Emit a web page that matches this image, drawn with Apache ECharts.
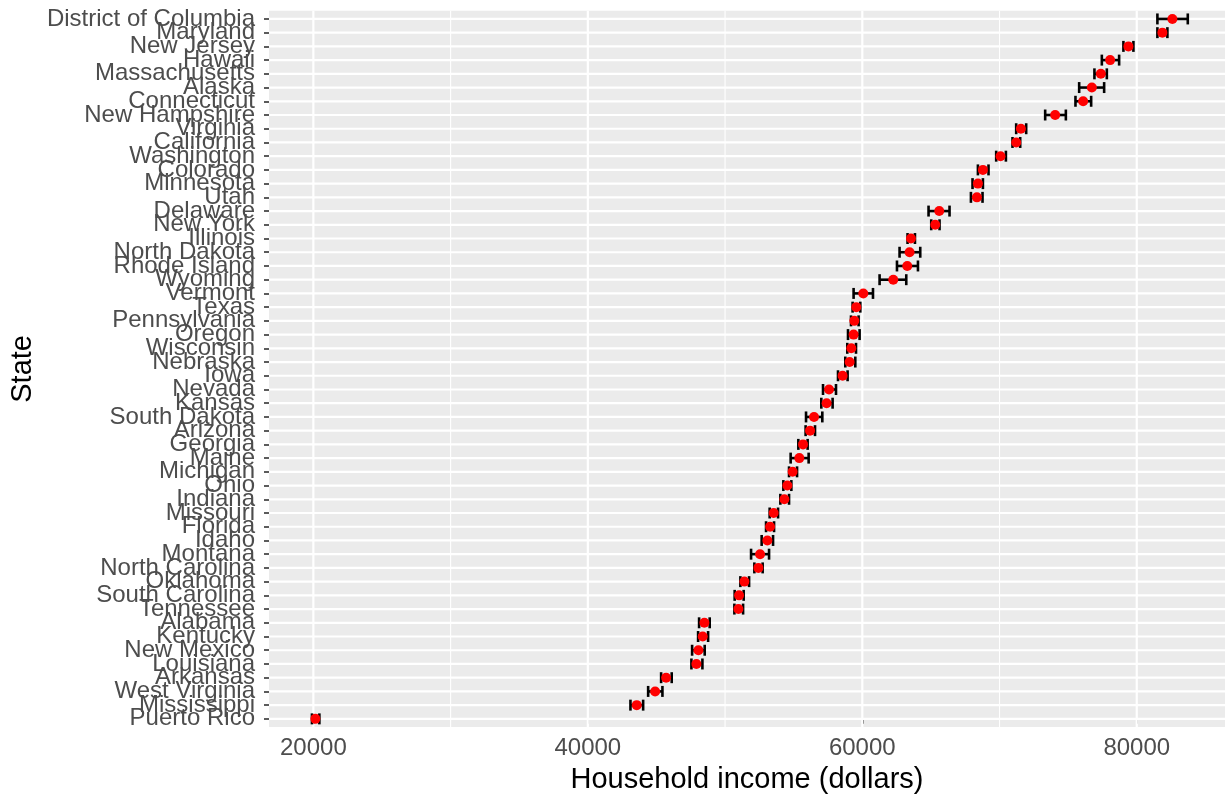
<!DOCTYPE html>
<html>
<head>
<meta charset="utf-8">
<title>Household income by state</title>
<script src="https://cdn.jsdelivr.net/npm/echarts@6/dist/echarts.min.js"></script>
<style>
  html, body { margin: 0; padding: 0; background: #ffffff; }
  #chart { width: 1225px; height: 799px; }
</style>
</head>
<body>
<div id="chart"></div>
<script>
// States listed from top of the chart to the bottom (highest to lowest income)
const states = [
  'District of Columbia', 'Maryland', 'New Jersey', 'Hawaii', 'Massachusetts',
  'Alaska', 'Connecticut', 'New Hampshire', 'Virginia', 'California',
  'Washington', 'Colorado', 'Minnesota', 'Utah', 'Delaware',
  'New York', 'Illinois', 'North Dakota', 'Rhode Island', 'Wyoming',
  'Vermont', 'Texas', 'Pennsylvania', 'Oregon', 'Wisconsin',
  'Nebraska', 'Iowa', 'Nevada', 'Kansas', 'South Dakota',
  'Arizona', 'Georgia', 'Maine', 'Michigan', 'Ohio',
  'Indiana', 'Missouri', 'Florida', 'Idaho', 'Montana',
  'North Carolina', 'Oklahoma', 'South Carolina', 'Tennessee', 'Alabama',
  'Kentucky', 'New Mexico', 'Louisiana', 'Arkansas', 'West Virginia',
  'Mississippi', 'Puerto Rico'
];

// Median household income estimate (dollars)
const income = [
  82596, 81868, 79392, 78059, 77382,
  76727, 76093, 74054, 71557, 71214,
  70071, 68789, 68425, 68352, 65607,
  65316, 63546, 63445, 63277, 62257,
  60073, 59563, 59418, 59367, 59199,
  59075, 58565, 57575, 57400, 56483,
  56192, 55682, 55412, 54924, 54539,
  54320, 53541, 53279, 53082, 52551,
  52427, 51407, 51021, 50970, 48494,
  48371, 48058, 47912, 45705, 44904,
  43565, 20146
];

// Lower end of the margin of error
const lower = [
  81504, 81504, 79028, 77455, 76916,
  75803, 75534, 73326, 71214, 70945,
  69757, 68425, 68033, 67916, 64828,
  65024, 63298, 62716, 62527, 61260,
  59366, 59294, 59177, 58959, 58907,
  58762, 58230, 57138, 57014, 55900,
  55870, 55340, 54779, 54662, 54248,
  54029, 53250, 52987, 52667, 51895,
  52135, 51116, 50700, 50679, 48108,
  48036, 47599, 47548, 45341, 44395,
  43106, 19898
];

// Upper end of the margin of error
const upper = [
  83718, 82232, 79756, 78715, 77819,
  77623, 76677, 74833, 71942, 71506,
  70464, 69197, 68789, 68761, 66357,
  65629, 63837, 64223, 64056, 63204,
  60779, 59855, 59731, 59804, 59541,
  59490, 58929, 58084, 57837, 57087,
  56555, 56017, 56090, 55245, 54830,
  54662, 53861, 53570, 53497, 53206,
  52739, 51750, 51356, 51313, 48880,
  48764, 48516, 48349, 46113, 45436,
  44031, 20437
];

// Axis breaks
const xMajorTicks = [20000, 40000, 60000, 80000];
const xMinorTicks = [30000, 50000, 70000];

const n = states.length;
// Row position of each state: first state sits at the top
const rowOf = i => n - 1 - i;
const rows = states.map((_, i) => rowOf(i));
// Labels are split over two stacked axes so that neighbouring names may overlap
const evenRows = rows.filter(r => r % 2 === 0);
const oddRows = rows.filter(r => r % 2 === 1);

const pointData = income.map((v, i) => [v, rowOf(i)]);
const barData = income.map((_, i) => [lower[i], rowOf(i), upper[i]]);

const FONT = '"Liberation Sans", Arial, Helvetica, sans-serif';

const stateLabel = values => ({
  customValues: values, margin: 14,
  showMinLabel: true, showMaxLabel: true, hideOverlap: false,
  fontSize: 24, lineHeight: 24, color: '#4D4D4D', fontFamily: FONT,
  formatter: v => states[n - 1 - Math.round(v)]
});

// White panel grid line series (drawn beneath the marks)
const hGridSeries = width => ({
  type: 'custom', silent: true, z: 1,
  data: rows.map(r => [r]),
  encode: { y: 0 },
  renderItem: (params, api) => {
    const cs = params.coordSys;
    const y = api.coord([xMajorTicks[0], api.value(0)])[1];
    return {
      type: 'line',
      shape: { x1: cs.x, y1: y, x2: cs.x + cs.width, y2: y },
      style: { stroke: '#ffffff', lineWidth: width }
    };
  }
});
const vGridSeries = (values, width) => ({
  type: 'custom', silent: true, z: 1,
  data: values.map(v => [v]),
  encode: { x: 0 },
  renderItem: (params, api) => {
    const cs = params.coordSys;
    const x = api.coord([api.value(0), 0])[0];
    return {
      type: 'line',
      shape: { x1: x, y1: cs.y, x2: x, y2: cs.y + cs.height },
      style: { stroke: '#ffffff', lineWidth: width }
    };
  }
});

const chart = echarts.init(document.getElementById('chart'), null, { renderer: 'canvas' });

chart.setOption({
  animation: false,
  backgroundColor: '#ffffff',
  textStyle: { fontFamily: FONT },
  grid: {
    left: 268, right: 0, top: 10.7, bottom: 70.3,
    show: true, backgroundColor: '#EBEBEB', borderWidth: 0
  },
  xAxis: {
    type: 'value',
    min: 16767,
    max: 86430,
    splitLine: { show: false },
    minorSplitLine: { show: false },
    axisLine: { show: false },
    axisTick: {
      show: true, customValues: xMajorTicks, length: 5,
      lineStyle: { color: '#333333', width: 1.6 }
    },
    axisLabel: {
      customValues: xMajorTicks, margin: 9,
      fontSize: 24, color: '#4D4D4D', fontFamily: FONT,
      formatter: v => String(v)
    },
    name: 'Household income (dollars)',
    nameLocation: 'middle',
    nameGap: 33,
    nameTextStyle: { fontSize: 29, color: '#000000', fontFamily: FONT }
  },
  yAxis: [
    {
      type: 'value',
      position: 'left',
      min: -0.6,
      max: n - 1 + 0.6,
      splitLine: { show: false },
      axisLine: { show: false },
      axisTick: {
        show: true, customValues: rows, length: 5,
        lineStyle: { color: '#333333', width: 1.6 }
      },
      axisLabel: stateLabel(evenRows),
      name: 'State',
      nameLocation: 'middle',
      nameRotate: 90,
      nameGap: 232,
      nameTextStyle: { fontSize: 29, color: '#000000', fontFamily: FONT }
    },
    {
      type: 'value',
      position: 'left',
      offset: 0,
      min: -0.6,
      max: n - 1 + 0.6,
      splitLine: { show: false },
      axisLine: { show: false },
      axisTick: { show: false },
      axisLabel: stateLabel(oddRows)
    }
  ],
  series: [
    hGridSeries(2.2),
    vGridSeries(xMajorTicks, 2.2),
    vGridSeries(xMinorTicks, 1.1),
    {
      // horizontal error bars with end caps
      type: 'custom',
      z: 2,
      silent: true,
      data: barData,
      encode: { x: [0, 2], y: 1 },
      renderItem: (params, api) => {
        const y = api.value(1);
        const a = api.coord([api.value(0), y]);
        const b = api.coord([api.value(2), y]);
        const half = api.size([0, 0.8])[1] / 2;
        const style = { stroke: '#000000', lineWidth: 2.6, fill: null };
        return {
          type: 'group',
          children: [
            { type: 'line', shape: { x1: a[0], y1: a[1], x2: b[0], y2: b[1] }, style },
            { type: 'line', shape: { x1: a[0], y1: a[1] - half, x2: a[0], y2: a[1] + half }, style },
            { type: 'line', shape: { x1: b[0], y1: b[1] - half, x2: b[0], y2: b[1] + half }, style }
          ]
        };
      }
    },
    {
      // point estimates
      type: 'scatter',
      z: 3,
      data: pointData,
      symbol: 'circle',
      symbolSize: 10,
      itemStyle: { color: '#FF0000', opacity: 1, borderWidth: 0 }
    }
  ]
});
</script>
</body>
</html>
